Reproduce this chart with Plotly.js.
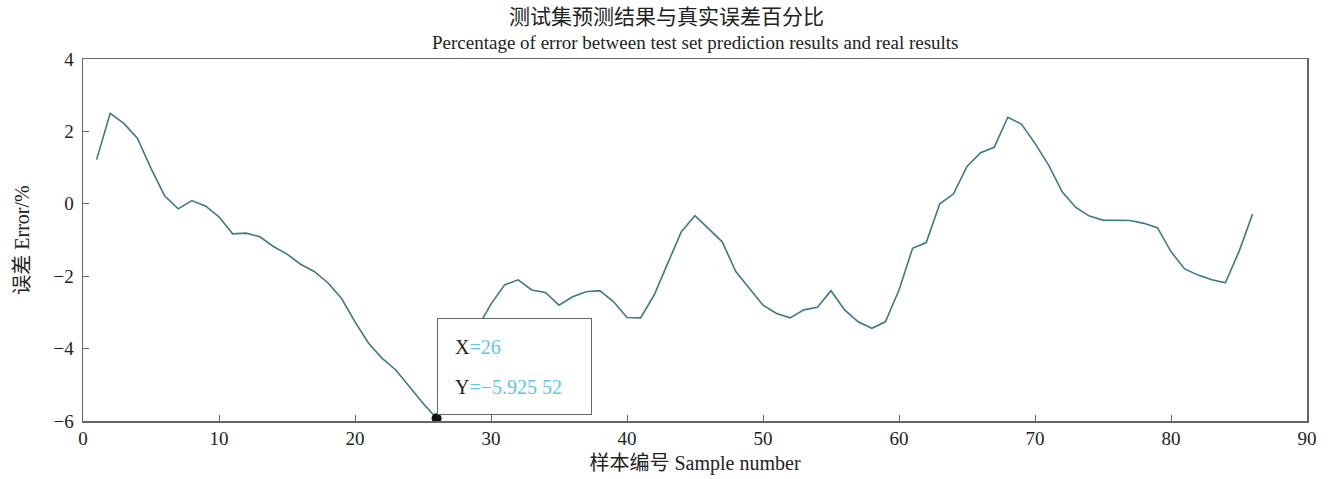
<!DOCTYPE html>
<html>
<head>
<meta charset="utf-8">
<script src="https://cdn.plot.ly/plotly-3.0.1.min.js"></script>
<style>html,body{margin:0;padding:0;background:#fff;}#chart{width:1333px;height:479px;}</style>
</head>
<body>
<div id="chart"></div>
<script>
// Sample numbers 1..86
const sampleNumbers = [
  1,2,3,4,5,6,7,8,9,10,11,12,13,14,15,16,17,18,19,20,
  21,22,23,24,25,26,27,28,29,30,31,32,33,34,35,36,37,38,39,40,
  41,42,43,44,45,46,47,48,49,50,51,52,53,54,55,56,57,58,59,60,
  61,62,63,64,65,66,67,68,69,70,71,72,73,74,75,76,77,78,79,80,
  81,82,83,84,85,86
];
// Percentage error values
const errorPercent = [
  1.22, 2.50, 2.22, 1.81, 0.98, 0.22, -0.14, 0.09, -0.06, -0.36,
  -0.83, -0.81, -0.91, -1.18, -1.39, -1.67, -1.87, -2.18, -2.61, -3.26,
  -3.85, -4.27, -4.59, -5.05, -5.51, -5.92552, -5.10, -4.30, -3.42, -2.77,
  -2.24, -2.10, -2.38, -2.45, -2.80, -2.57, -2.43, -2.40, -2.70, -3.14,
  -3.15, -2.52, -1.64, -0.77, -0.33, -0.68, -1.05, -1.87, -2.34, -2.80,
  -3.03, -3.15, -2.93, -2.86, -2.40, -2.93, -3.26, -3.44, -3.26, -2.38,
  -1.23, -1.07, 0.00, 0.27, 1.03, 1.41, 1.56, 2.39, 2.20, 1.67,
  1.07, 0.33, -0.10, -0.34, -0.45, -0.45, -0.46, -0.54, -0.66, -1.32,
  -1.80, -1.97, -2.10, -2.18, -1.32, -0.28
];
// Highlighted data tip
const tipX = [26];
const tipY = [-5.92552];
const tipLabelX = "26";
const tipLabelY = "\u22125.925 52";

const xTicks = [0,10,20,30,40,50,60,70,80,90];
const yTicks = [-6,-4,-2,0,2,4];

const titleCN = "测试集预测结果与真实误差百分比";
const titleEN = "Percentage of error between test set prediction results and real results";
const xTitle = "样本编号 Sample number";
const yTitle = "误差 Error/%";

const serif = '"Liberation Serif", "Times New Roman", "Noto Sans CJK SC", serif';

const traces = [
  {
    x: sampleNumbers, y: errorPercent, type: 'scatter', mode: 'lines',
    line: {color: '#3b7b83', width: 1.6}, hoverinfo: 'x+y', showlegend: false
  },
  {
    x: tipX, y: tipY, type: 'scatter', mode: 'markers',
    marker: {color: '#111', size: 10}, showlegend: false
  }
];

const layout = {
  width: 1333, height: 479,
  margin: {l: 83, r: 26, t: 59, b: 58},
  paper_bgcolor: '#ffffff', plot_bgcolor: '#ffffff',
  font: {family: serif, color: '#222', size: 19},
  title: {
    text: titleCN, font: {family: serif, size: 21, color: '#222'},
    x: 0.5, xref: 'container', y: 1 - 17/479, yref: 'container', yanchor: 'middle'
  },
  xaxis: {
    range: [0, 90], tickvals: xTicks, ticks: 'inside', ticklen: 6, tickcolor: '#666',
    showline: true, linecolor: '#666', linewidth: 1.5, mirror: true,
    showgrid: false, zeroline: false,
    tickfont: {family: serif, size: 19, color: '#222'},
    title: {text: xTitle, font: {family: serif, size: 20, color: '#222'}, standoff: 7}
  },
  yaxis: {
    range: [-6, 4], tickvals: yTicks, ticks: 'inside', ticklen: 6, tickcolor: '#666',
    showline: true, linecolor: '#666', linewidth: 1.5, mirror: true,
    showgrid: false, zeroline: false, ticklabelstandoff: 4,
    tickfont: {family: serif, size: 19, color: '#222'},
    title: {text: yTitle, font: {family: serif, size: 20, color: '#222'}, standoff: 18}
  },
  annotations: [
    {
      xref: 'paper', yref: 'paper', x: 0.5, y: 1, yanchor: 'middle', yshift: 17,
      text: titleEN, showarrow: false, font: {family: serif, size: 19, color: '#222'}
    },
    {
      xref: 'x', yref: 'y', x: tipX[0], y: tipY[0], xanchor: 'left', yanchor: 'bottom',
      yshift: 3, text: ' ', showarrow: false, width: 153, height: 95,
      bgcolor: '#ffffff', bordercolor: '#666', borderwidth: 1, borderpad: 0
    },
    {
      xref: 'x', yref: 'y', x: tipX[0], y: tipY[0], xanchor: 'left', yanchor: 'middle',
      xshift: 16, yshift: 71, showarrow: false, align: 'left',
      text: 'X<span style="color:#5cc6ee">=' + tipLabelX + '</span>',
      font: {family: serif, size: 20, color: '#222'}
    },
    {
      xref: 'x', yref: 'y', x: tipX[0], y: tipY[0], xanchor: 'left', yanchor: 'middle',
      xshift: 16, yshift: 31, showarrow: false, align: 'left',
      text: 'Y<span style="color:#5cc6ee">=' + tipLabelY + '</span>',
      font: {family: serif, size: 20, color: '#222'}
    }
  ]
};

Plotly.newPlot('chart', traces, layout, {displayModeBar: false, staticPlot: true});
</script>
</body>
</html>
